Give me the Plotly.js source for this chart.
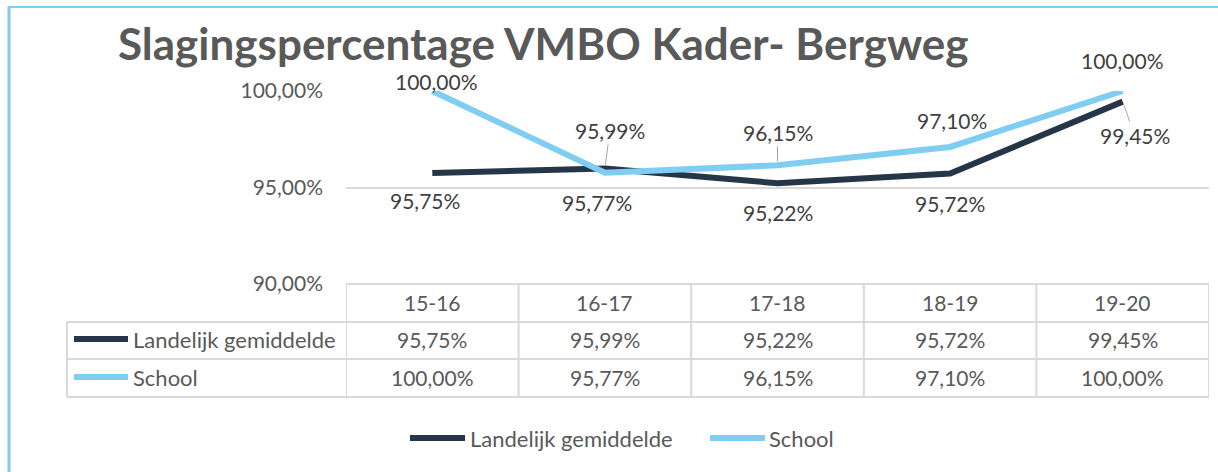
<!DOCTYPE html>
<html><head><meta charset="utf-8">
<script src="https://cdn.plot.ly/plotly-3.0.1.min.js"></script>
<style>html,body{margin:0;padding:0;background:#fff}</style>
</head><body><div id="chart" style="width:1218px;height:472px"></div>
<script>
const categories = ['15-16','16-17','17-18','18-19','19-20'];
const landelijk = [95.75, 95.99, 95.22, 95.72, 99.45];
const school = [100.00, 95.77, 96.15, 97.10, 100.00];
const seriesNames = ['Landelijk gemiddelde', 'School'];
const yTicks = [90, 95, 100];
const titleText = 'Slagingspercentage VMBO Kader- Bergweg';

const W = 1218, H = 472;
const px = x => x / W;
const py = y => 1 - y / H;
const FONT = 'Lato, "Open Sans", sans-serif';
const FS = 21;
const FSN = 22;
const colors = ['#253648', '#80CDF2'];
const fmt = v => v.toFixed(2).replace('.', ',') + '%';

// label offsets (layout only): [dx, dy, leader]
const labelPos = [
  [[-7, 27, false], [5, -38, true], [0, 29, false], [0, 30, false], [12, 34, true]],
  [[4, -10, false], [-8, 30, false], [0, -33, true], [2, -26, false], [0, -31, false]]
];

const traces = [landelijk, school].map((vals, s) => ({
  type: 'scatter', mode: 'lines', x: categories, y: vals, name: seriesNames[s],
  line: {color: colors[s], width: 6}, showlegend: false, hoverinfo: 'skip'
}));

const annotations = [];
const shapes = [];
[landelijk, school].forEach((vals, s) => {
  vals.forEach((v, i) => {
    const [dx, dy, leader] = labelPos[s][i];
    const a = {x: categories[i], y: v, xref: 'x', yref: 'y', text: fmt(v),
      font: {family: FONT, size: FS, color: '#404040'}};
    if (leader) {
      Object.assign(a, {showarrow: true, arrowhead: 0, arrowwidth: 1, arrowcolor: '#A6A6A6',
        ax: dx, ay: dy, standoff: 4});
    } else {
      Object.assign(a, {showarrow: false, xanchor: 'center', yanchor: 'middle', xshift: dx, yshift: -dy});
    }
    annotations.push(a);
  });
});

// Title
annotations.push({text: '<b>' + titleText + '</b>', x: px(543), y: py(43), xref: 'paper', yref: 'paper',
  xanchor: 'center', yanchor: 'middle',
  showarrow: false, font: {family: FONT, size: 44, color: '#595959'}});

// Data table
const tTop = 284, r1 = 322, r2 = 359, r3 = 397, labL = 67;
const gc = '#D9D9D9';
const hline = (x0, x1, y, xr) => shapes.push({type: 'line', xref: xr, yref: 'paper', x0, x1, y0: py(y), y1: py(y), line: {color: gc, width: 2}});
const vline = (x, y0, y1, xr) => shapes.push({type: 'line', xref: xr, yref: 'paper', x0: x, x1: x, y0: py(y0), y1: py(y1), line: {color: gc, width: 2}});
hline(-0.5, categories.length - 0.5, tTop, 'x');
[r1, r2, r3].forEach(y => hline(px(labL), 1 - px(W - 1209), y, 'paper'));
vline(px(labL), r1, r3, 'paper');
for (let i = 0; i <= categories.length; i++) vline(i - 0.5, tTop, r3, 'x');

const rowCenters = [302, 339, 377];
categories.forEach((c, i) => {
  annotations.push({text: c, x: c, xref: 'x', y: py(rowCenters[0]), yref: 'paper', showarrow: false,
    xanchor: 'center', yanchor: 'middle', font: {family: FONT, size: FS, color: '#595959'}});
  [landelijk, school].forEach((vals, s) => {
    annotations.push({text: fmt(vals[i]), x: c, xref: 'x', y: py(rowCenters[s + 1]), yref: 'paper', showarrow: false,
      xanchor: 'center', yanchor: 'middle', font: {family: FONT, size: FS, color: '#595959'}});
  });
});
seriesNames.forEach((n, s) => {
  const yc = rowCenters[s + 1];
  shapes.push({type: 'line', xref: 'paper', yref: 'paper', x0: px(74), x1: px(128), y0: py(yc), y1: py(yc),
    line: {color: colors[s], width: 6}});
  annotations.push({text: n, x: px(131), xanchor: 'left', yanchor: 'middle', y: py(yc), yref: 'paper', xref: 'paper', showarrow: false,
    font: {family: FONT, size: FSN, color: '#595959'}});
});

// Bottom legend
const legX = [[410, 465, 468], [710, 765, 767]];
seriesNames.forEach((n, s) => {
  const yc = 438;
  shapes.push({type: 'line', xref: 'paper', yref: 'paper', x0: px(legX[s][0]), x1: px(legX[s][1]), y0: py(yc), y1: py(yc),
    line: {color: colors[s], width: 6}});
  annotations.push({text: n, x: px(legX[s][2]), xanchor: 'left', yanchor: 'middle', y: py(yc), yref: 'paper', xref: 'paper', showarrow: false,
    font: {family: FONT, size: FSN, color: '#595959'}});
});

// Outer border (light blue)
shapes.push({type: 'line', xref: 'paper', yref: 'paper', x0: px(9), x1: px(9), y0: py(6), y1: 0, line: {color: '#80CDF2', width: 3}});
shapes.push({type: 'line', xref: 'paper', yref: 'paper', x0: px(8), x1: 1, y0: py(7), y1: py(7), line: {color: '#80CDF2', width: 2}});

const layout = {
  width: W, height: H,
  margin: {l: 0, r: 0, t: 0, b: 0},
  paper_bgcolor: '#fff', plot_bgcolor: '#fff',
  separators: ',.',
  showlegend: false,
  xaxis: {type: 'category', domain: [px(346), px(1209)], range: [-0.5, categories.length - 0.5],
    showticklabels: false, showgrid: false, zeroline: false, showline: false, ticks: ''},
  yaxis: {domain: [py(284), py(91)], range: [90, 100], tickvals: yTicks,
    ticktext: yTicks.map(fmt), showgrid: true, gridcolor: gc, gridwidth: 2, zeroline: false,
    showline: false, ticks: '', ticklabelstandoff: 22,
    tickfont: {family: FONT, size: FS, color: '#595959'}},
  shapes, annotations
};

Plotly.newPlot('chart', traces, layout, {staticPlot: true, displayModeBar: false});
</script>
</body></html>
